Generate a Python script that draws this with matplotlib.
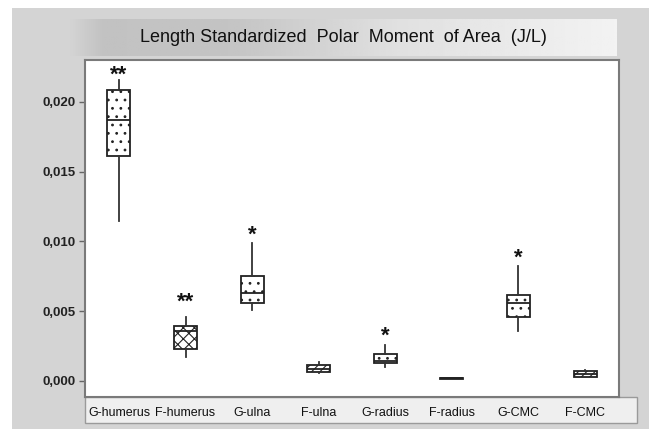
import matplotlib.pyplot as plt
import numpy as np
from matplotlib.patches import Rectangle

plt.rcParams['font.family'] = ['Liberation Sans', 'DejaVu Sans']
plt.rcParams['hatch.linewidth'] = 0.8

# values
groups = ['G-humerus', 'F-humerus', 'G-ulna', 'F-ulna',
          'G-radius', 'F-radius', 'G-CMC', 'F-CMC']
whisker_low = [0.01150, 0.00171, 0.00512, 0.00060, 0.00102, 0.00017, 0.00359, 0.00030]
q1 = [0.01614, 0.00231, 0.00559, 0.00064, 0.00126, 0.00017, 0.00457, 0.00031]
median = [0.01871, 0.00360, 0.00631, 0.00085, 0.00143, 0.00019, 0.00559, 0.00050]
q3 = [0.02086, 0.00393, 0.00750, 0.00114, 0.00195, 0.00021, 0.00619, 0.00069]
whisker_high = [0.02157, 0.00459, 0.00986, 0.00134, 0.00257, 0.00021, 0.00821, 0.00075]
signif = ['**', '**', '*', '', '*', '', '*', '']
hatches = ['..', 'xxx', '..', '////', '..', '', '..', '////']

yticks = [0.000, 0.005, 0.010, 0.015, 0.020]
ytick_labels = ['0,000', '0,005', '0,010', '0,015', '0,020']

W, H = 649, 429
fig = plt.figure(figsize=(W / 100, H / 100), dpi=100)
fig.patch.set_facecolor('white')

# background panel, pixel coords with top-left origin
bg = fig.add_axes([0, 0, 1, 1], zorder=-10)
bg.set_xlim(0, W)
bg.set_ylim(H, 0)
bg.set_axis_off()
bg.add_patch(Rectangle((12, 8), W - 12, H - 8, facecolor='#d4d4d4', edgecolor='none'))
bg.add_patch(Rectangle((85, 397), 552, 26, facecolor='#efefef', edgecolor='#9a9a9a', lw=1.0))

# title box with gradient
tax = fig.add_axes([70 / W, 1 - 56 / H, 547 / W, 37 / H], zorder=-5)
grad = np.interp(np.linspace(0, 1, 300), [0, 0.06, 0.3, 0.6, 1.0], [0.83, 0.76, 0.77, 0.88, 0.95])
tax.imshow(grad[np.newaxis, :], cmap='gray', vmin=0, vmax=1, aspect='auto',
           extent=[0, 1, 0, 1])
tax.set_axis_off()
tax.text(0.5, 0.5, 'Length Standardized  Polar  Moment  of Area  (J/L)',
         ha='center', va='center', fontsize=13, color='#111111',
         transform=tax.transAxes)

ax = fig.add_axes([85 / W, 1 - 397 / H, 534 / W, 337 / H])
ax.set_facecolor('white')

stats = []
for i, g in enumerate(groups):
    stats.append({'label': g, 'whislo': whisker_low[i], 'q1': q1[i], 'med': median[i],
                  'q3': q3[i], 'whishi': whisker_high[i], 'fliers': []})

pos = np.arange(1, len(groups) + 1)
bp = ax.bxp(stats, positions=pos, widths=0.345, patch_artist=True, showcaps=False,
            boxprops=dict(facecolor='white', edgecolor='#222222', linewidth=1.3),
            medianprops=dict(color='#222222', linewidth=1.3),
            whiskerprops=dict(color='#333333', linewidth=1.3))
for box, h in zip(bp['boxes'], hatches):
    box.set_hatch(h)

offsets = [-4, 3, -2, 0, -1, 0, -2, 0]
for i, s in enumerate(signif):
    if s:
        ax.annotate(s, (pos[i], whisker_high[i]), xytext=(0, offsets[i]),
                    textcoords='offset points', ha='center', va='bottom',
                    fontsize=16, fontweight='bold', color='#111111')

ax.set_xlim(0.49, 8.51)
ax.set_ylim(-0.00115, 0.02301)
ax.set_yticks(yticks)
ax.set_yticklabels(ytick_labels, fontsize=9.5, fontweight='bold', color='#222222')
ax.tick_params(axis='y', length=4, width=1, color='#666666', pad=3)
ax.set_xticks(pos)
ax.set_xticklabels(groups, fontsize=9, color='#111111')
ax.tick_params(axis='x', length=0, pad=7)
for sp in ax.spines.values():
    sp.set_color('#7a7a7a')
    sp.set_linewidth(1.5)

fig.savefig('out.png', dpi=100, facecolor=fig.get_facecolor())
